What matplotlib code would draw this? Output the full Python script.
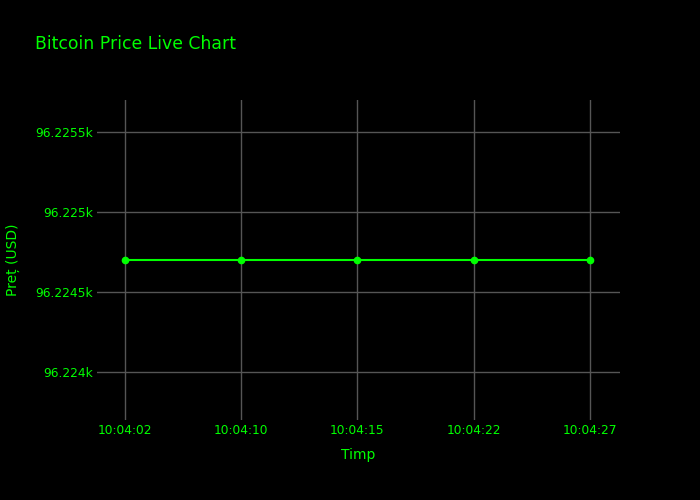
import matplotlib.pyplot as plt

plt.rcParams['font.family'] = ['DejaVu Sans']

# ── Data ──────────────────────────────────────────────────────────────────────
times = ["10:04:02", "10:04:10", "10:04:15", "10:04:22", "10:04:27"]
prices = [96224.70, 96224.70, 96224.70, 96224.70, 96224.70]
y_ticks = [96224.0, 96224.5, 96225.0, 96225.5]
y_tick_labels = ["96.224k", "96.2245k", "96.225k", "96.2255k"]

GREEN = "#00ff00"
GRID = "#555555"

# ── Figure ────────────────────────────────────────────────────────────────────
fig = plt.figure(figsize=(7, 5), dpi=100, facecolor="black")
ax = fig.add_axes([97 / 700, 80 / 500, 523 / 700, 320 / 500], facecolor="black")

x = list(range(len(times)))
ax.plot(x, prices, color=GREEN, lw=1.5, marker="o", ms=4.5, zorder=3)

ax.set_xlim(-0.24, len(times) - 1 + 0.26)
ax.set_ylim(min(prices) - 1.0, max(prices) + 1.0)
ax.set_xticks(x)
ax.set_xticklabels(times)
ax.set_yticks(y_ticks)
ax.set_yticklabels(y_tick_labels)

ax.grid(True, color=GRID, lw=1)
ax.set_axisbelow(True)
for s in ax.spines.values():
    s.set_visible(False)
ax.tick_params(colors=GREEN, labelsize=8.8, length=0)
ax.tick_params(axis="x", pad=3)
ax.tick_params(axis="y", pad=3)

ax.set_xlabel("Timp", color=GREEN, fontsize=10, labelpad=8)
ax.set_ylabel("Preț (USD)", color=GREEN, fontsize=10, labelpad=11)

fig.text(35 / 700, 1 - 44 / 500, "Bitcoin Price Live Chart", color=GREEN,
         fontsize=12.4, va="center", ha="left")

fig.savefig("out.png", dpi=100, facecolor="black")
